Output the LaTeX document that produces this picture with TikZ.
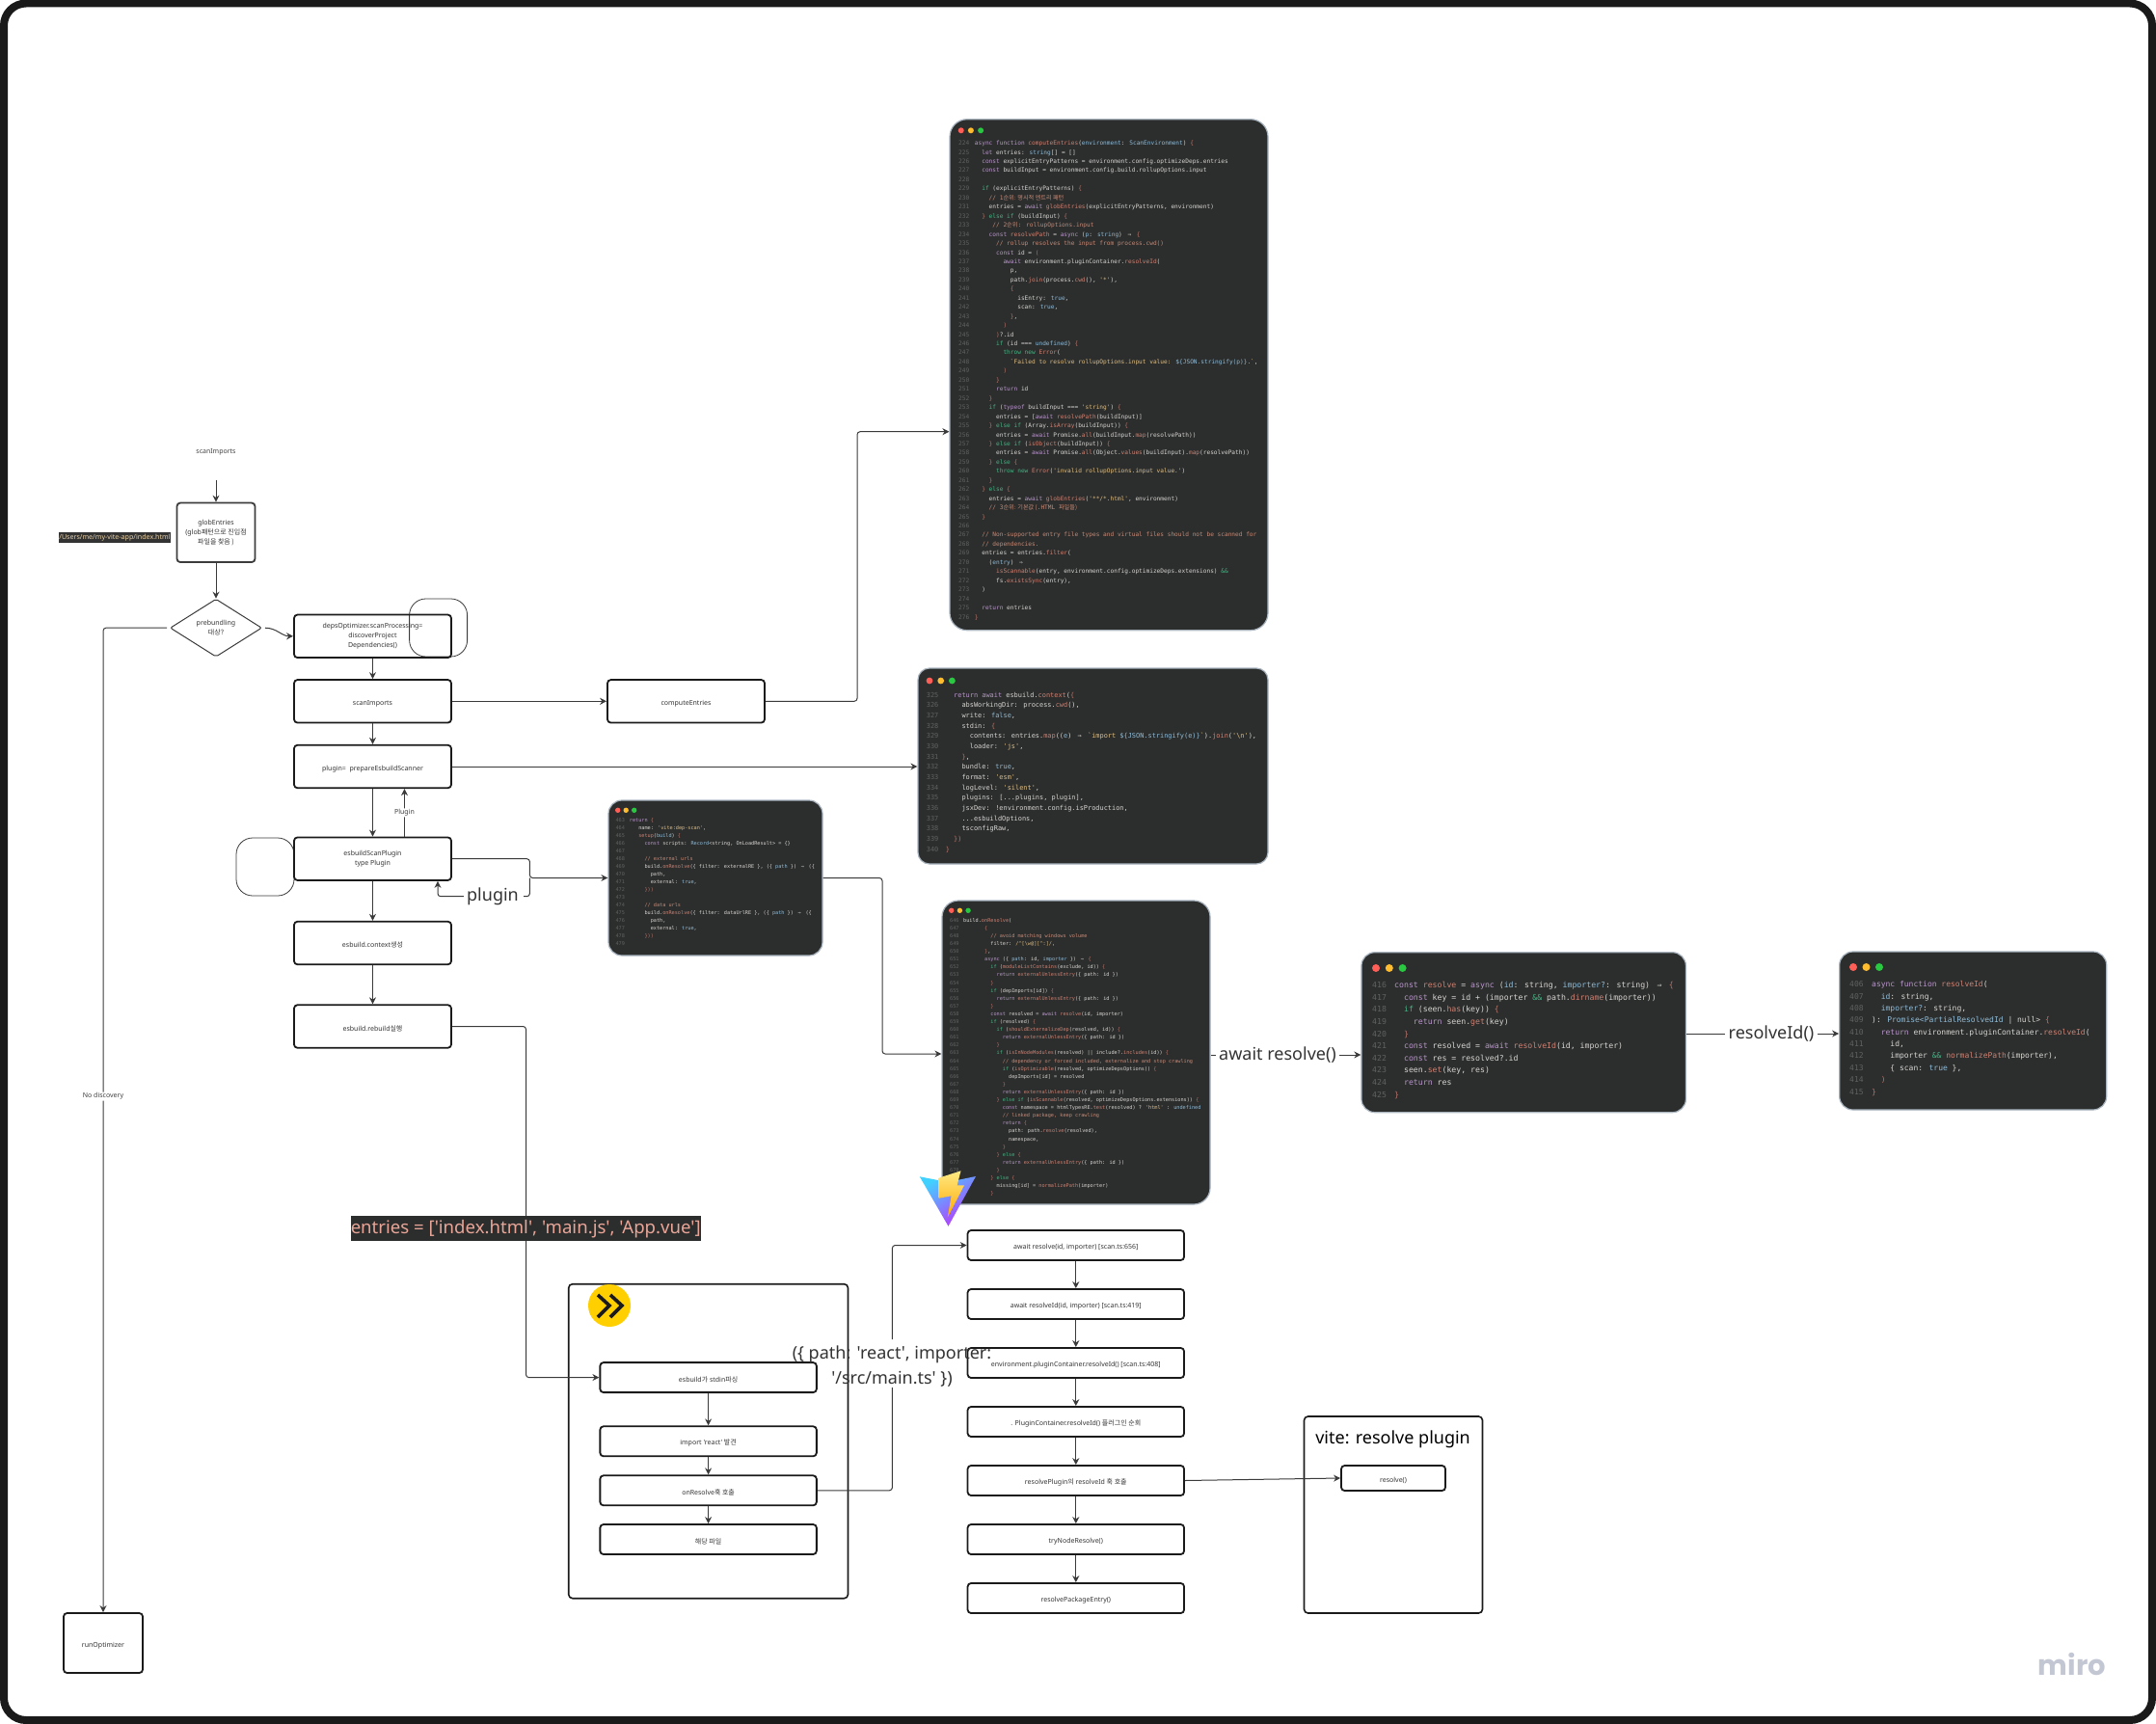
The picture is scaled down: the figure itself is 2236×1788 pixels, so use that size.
\documentclass[tikz,border=0pt]{standalone}
\usepackage{fontspec}
\usetikzlibrary{shapes.geometric, arrows.meta, positioning}
\setmainfont{Noto Sans}
\newfontfamily\kofont{Noto Sans CJK KR}
\newfontfamily\codefont{DejaVu Sans Mono}
\newfontfamily\logofont{Poppins}
\newfontfamily\quotefont{Noto Sans}
\newcommand{\ko}[1]{{\kofont #1}}

\definecolor{inkline}{HTML}{1A1A1A}
\definecolor{wireline}{HTML}{3A3A3A}
\definecolor{panelfill}{HTML}{2C2E2D}
\definecolor{paneledge}{HTML}{A9B4BF}
\definecolor{lnogray}{HTML}{5F6261}
\definecolor{codeplain}{HTML}{D6D6D2}
\definecolor{tokkey}{HTML}{B795C9}
\definecolor{tokfun}{HTML}{CE8173}
\definecolor{tokstr}{HTML}{E0BE84}
\definecolor{tokcom}{HTML}{C58A78}
\definecolor{tokpar}{HTML}{8FBBD8}
\definecolor{tokctl}{HTML}{45B384}
\definecolor{tokbrk}{HTML}{B9736A}
\definecolor{lightred}{HTML}{FF5F57}
\definecolor{lightyellow}{HTML}{FEBC2E}
\definecolor{lightgreen}{HTML}{28C840}
\definecolor{viteblue}{HTML}{41D1FF}
\definecolor{vitepurple}{HTML}{BD34FE}
\definecolor{boltyellow}{HTML}{FFEA83}
\definecolor{boltorange}{HTML}{FFA800}
\definecolor{esbuildyellow}{HTML}{FFCF00}
\definecolor{miroslate}{HTML}{C3C7D3}
\definecolor{entriestext}{HTML}{E8A598}

% tokens of the code windows
\newlength{\lnow}
\newcommand{\lno}[1]{\makebox[\lnow][l]{\textcolor{lnogray}{#1}}}
\newcommand{\ind}[1]{\hspace*{\dimexpr 0.602em*#1\relax}}
\newcommand{\fat}{\makebox[1.204em][c]{⇒}}
\newcommand{\tkw}[1]{\textcolor{tokkey}{#1}}
\newcommand{\tfn}[1]{\textcolor{tokfun}{#1}}
\newcommand{\tstr}[1]{\textcolor{tokstr}{#1}}
\newcommand{\tcm}[1]{\textcolor{tokcom}{#1}}
\newcommand{\tpa}[1]{\textcolor{tokpar}{#1}}
\newcommand{\tctl}[1]{\textcolor{tokctl}{#1}}
\newcommand{\tbr}[1]{\textcolor{tokbrk}{#1}}

% traffic lights: first x, spacing, y, radius
\newcommand{\lights}[4]{
  \fill[lightred] (#1,#3) circle (#4pt);
  \fill[lightyellow] (#1+#2,#3) circle (#4pt);
  \fill[lightgreen] (#1+2*#2,#3) circle (#4pt);
}

\tikzset{
  flowbox/.style={draw=inkline, line width=1.8pt, rounded corners=3.5pt, inner sep=0pt, align=center, text=black!80, font=\fontsize{7}{10}\selectfont, execute at begin node={\rule{0pt}{10pt}}},
  leftbox/.style={flowbox, minimum width=163pt, minimum height=44.5pt},
  stepbox/.style={flowbox, minimum width=224.5pt, minimum height=31pt},
  groupbox/.style={draw=inkline, line width=1.6pt, rounded corners=4pt, inner sep=0pt},
  softbox/.style={draw=wireline, line width=0.8pt, rounded corners=17pt, minimum width=60pt, minimum height=60pt, inner sep=0pt},
  wire/.style={draw=wireline, line width=1pt, rounded corners=3pt, -{Stealth[length=7pt,width=7pt]}},
  plainwire/.style={draw=wireline, line width=1pt, rounded corners=3pt},
  tinylabel/.style={text=black!75, inner sep=1pt, font=\fontsize{7}{10}\selectfont},
  biglabel/.style={text=black!80, inner sep=0pt, align=center, font=\quotefont\fontsize{18}{26}\selectfont},
  codewin/.style={fill=panelfill, draw=paneledge, line width=1.2pt, rounded corners=#1, inner sep=0pt},
  codetext/.style n args={3}{font=\codefont\fontsize{#1}{#2}\selectfont, execute at begin node=\setlength{\lnow}{#3}, text=codeplain, inner sep=0pt, anchor=base west, align=left},
}

\begin{document}
\begin{tikzpicture}[x=1pt, y=-1pt]
  \useasboundingbox (0,-1) rectangle (2236,1787);
  % Outer frame
  \draw[line width=8pt, inkline, rounded corners=23pt] (4,2.5) rectangle (2232,1783);

  % Outlines behind the left column
  \node[softbox] (depsNote) at (454.6,650) {};
  \node[softbox] (pluginNote) at (275,898) {};

  % Left column
  \node[tinylabel] (scanTitle) at (224,467.7) {scanImports};
  \coordinate (scanStart) at (224,497);
  \node[flowbox, draw=inkline!85, minimum width=81pt, minimum height=61.5pt] (globEntries) at (224,551.3) {globEntries\\(glob\ko{패턴으로 진입점}\\\ko{파일을 찾음 )}};
  \node[draw=wireline, line width=1pt, shape=diamond, aspect=1.58, minimum width=95pt, minimum height=60pt, inner sep=0pt, align=center, text=black!80, font=\fontsize{7}{10}\selectfont, rounded corners=2pt] (prebundle) at (224,650.2) {prebundling\\\ko{대상?}};
  \node[leftbox] (depsScan) at (386.5,658.8) {depsOptimizer.scanProcessing=\\discoverProject\\Dependencies()};
  \node[leftbox] (scanImports) at (386.5,726.3) {scanImports};
  \node[leftbox] (prepareScan) at (386.5,794) {plugin=\ \ prepareEsbuildScanner};
  \node[leftbox] (scanPlugin) at (386.5,889.7) {esbuildScanPlugin\\type Plugin};
  \node[leftbox] (esbContext) at (386.5,977) {esbuild.context\ko{생성}};
  \node[leftbox] (esbRebuild) at (386.5,1063.5) {esbuild.rebuild\ko{실행}};
  \node[leftbox, minimum width=82pt, minimum height=62pt] (runOptimizer) at (107,1703) {runOptimizer};
  \node[leftbox] (computeEntries) at (711.5,726.3) {computeEntries};
  \node[fill=black!80, text=tokstr!70!white, inner sep=0pt, minimum width=115pt, minimum height=10.5pt, font=\fontsize{7.1}{10}\selectfont] (htmlPath) at (119,556.5) {/Users/me/my-vite-app/index.html};
  \node[biglabel] (pluginLabel) at (511,928.7) {plugin};

  % Code windows
  \node[codewin=18pt, minimum width=330pt, minimum height=530pt] (computeWin) at (1150,387.7) {};
  \lights{996.7}{10.2}{134.3}{3}
  \node[codetext={6.15}{9.45}{16.7pt}] (computeCode) at (994,641) {%
\lno{224}\tkw{async function} \tfn{computeEntries}(\tpa{environment}: \tpa{ScanEnvironment}) \tbr{\{}\\
\lno{225}\ind{2}\tkw{let} entries: \tpa{string}[] = []\\
\lno{226}\ind{2}\tkw{const} explicitEntryPatterns = environment.config.optimizeDeps.entries\\
\lno{227}\ind{2}\tkw{const} buildInput = environment.config.build.rollupOptions.input\\
\lno{228}\\
\lno{229}\ind{2}\tctl{if} (explicitEntryPatterns) \tbr{\{}\\
\lno{230}\ind{4}\tcm{// 1\ko{순위: 명시적 엔트리 패턴}}\\
\lno{231}\ind{4}entries = \tkw{await} \tfn{globEntries}(explicitEntryPatterns, environment)\\
\lno{232}\ind{2}\tbr{\}} \tctl{else if} (buildInput) \tbr{\{}\\
\lno{233}\ind{5}\tcm{// 2\ko{순위}: rollupOptions.input}\\
\lno{234}\ind{4}\tkw{const} \tfn{resolvePath} = \tkw{async} (\tpa{p}: \tpa{string}) \fat{} \tbr{\{}\\
\lno{235}\ind{6}\tcm{// rollup resolves the input from process.cwd()}\\
\lno{236}\ind{6}\tkw{const} id = \tbr{(}\\
\lno{237}\ind{8}\tkw{await} environment.pluginContainer.\tfn{resolveId}(\\
\lno{238}\ind{10}p,\\
\lno{239}\ind{10}path.\tfn{join}(process.\tfn{cwd}(), \tstr{'*'}),\\
\lno{240}\ind{10}\tbr{\{}\\
\lno{241}\ind{12}isEntry: \tpa{true},\\
\lno{242}\ind{12}scan: \tpa{true},\\
\lno{243}\ind{10}\tbr{\}},\\
\lno{244}\ind{8}\tbr{)}\\
\lno{245}\ind{6}\tbr{)}?.id\\
\lno{246}\ind{6}\tctl{if} (id === \tpa{undefined}) \tbr{\{}\\
\lno{247}\ind{8}\tctl{throw new} \tfn{Error}(\\
\lno{248}\ind{10}\tstr{`Failed to resolve rollupOptions.input value: }\tpa{\$\{JSON.stringify(p)\}}\tstr{.`},\\
\lno{249}\ind{8}\tbr{)}\\
\lno{250}\ind{6}\tbr{\}}\\
\lno{251}\ind{6}\tkw{return} id\\
\lno{252}\ind{4}\tbr{\}}\\
\lno{253}\ind{4}\tctl{if} (\tkw{typeof} buildInput === \tstr{'string'}) \tbr{\{}\\
\lno{254}\ind{6}entries = [\tkw{await} \tfn{resolvePath}(buildInput)]\\
\lno{255}\ind{4}\tbr{\}} \tctl{else if} (Array.\tfn{isArray}(buildInput)) \tbr{\{}\\
\lno{256}\ind{6}entries = \tkw{await} Promise.\tfn{all}(buildInput.\tfn{map}(resolvePath))\\
\lno{257}\ind{4}\tbr{\}} \tctl{else if} (\tfn{isObject}(buildInput)) \tbr{\{}\\
\lno{258}\ind{6}entries = \tkw{await} Promise.\tfn{all}(Object.\tfn{values}(buildInput).\tfn{map}(resolvePath))\\
\lno{259}\ind{4}\tbr{\}} \tctl{else} \tbr{\{}\\
\lno{260}\ind{6}\tctl{throw new} \tfn{Error}(\tstr{'invalid rollupOptions.input value.'})\\
\lno{261}\ind{4}\tbr{\}}\\
\lno{262}\ind{2}\tbr{\}} \tctl{else} \tbr{\{}\\
\lno{263}\ind{4}entries = \tkw{await} \tfn{globEntries}(\tstr{'**/*.html'}, environment)\\
\lno{264}\ind{4}\tcm{// 3\ko{순위: 기본값 (}.HTML \ko{파일들)}}\\
\lno{265}\ind{2}\tbr{\}}\\
\lno{266}\\
\lno{267}\ind{2}\tcm{// Non-supported entry file types and virtual files should not be scanned for}\\
\lno{268}\ind{2}\tcm{// dependencies.}\\
\lno{269}\ind{2}entries = entries.\tfn{filter}(\\
\lno{270}\ind{4}(\tpa{entry}) \fat\\
\lno{271}\ind{6}\tfn{isScannable}(entry, environment.config.optimizeDeps.extensions) \tctl{\&\&}\\
\lno{272}\ind{6}fs.\tfn{existsSync}(entry),\\
\lno{273}\ind{2})\\
\lno{274}\\
\lno{275}\ind{2}\tkw{return} entries\\
\lno{276}\tbr{\}}};

  \node[codewin=12pt, minimum width=363pt, minimum height=203pt] (contextWin) at (1133.5,793.5) {};
  \lights{964}{11.7}{705}{3.4}
  \node[codetext={6.92}{10.65}{20pt}] (contextCode) at (960.7,882) {%
\lno{325}\ind{2}\tkw{return await} esbuild.\tfn{context}(\tbr{\{}\\
\lno{326}\ind{4}absWorkingDir: process.\tfn{cwd}(),\\
\lno{327}\ind{4}write: \tpa{false},\\
\lno{328}\ind{4}stdin: \tbr{\{}\\
\lno{329}\ind{6}contents: entries.\tfn{map}((\tpa{e}) \fat{} \tstr{`import }\tpa{\$\{JSON.stringify(e)\}}\tstr{`}).\tfn{join}(\tstr{'\textbackslash n'}),\\
\lno{330}\ind{6}loader: \tstr{'js'},\\
\lno{331}\ind{4}\tbr{\}},\\
\lno{332}\ind{4}bundle: \tpa{true},\\
\lno{333}\ind{4}format: \tstr{'esm'},\\
\lno{334}\ind{4}logLevel: \tstr{'silent'},\\
\lno{335}\ind{4}plugins: [...plugins, plugin],\\
\lno{336}\ind{4}jsxDev: !environment.config.isProduction,\\
\lno{337}\ind{4}...esbuildOptions,\\
\lno{338}\ind{4}tsconfigRaw,\\
\lno{339}\ind{2}\tbr{\})}\\
\lno{340}\tbr{\}}};

  \node[codewin=14pt, minimum width=222pt, minimum height=161pt] (pluginWin) at (742,909.5) {};
  \lights{640.7}{8.5}{839.3}{2.7}
  \node[codetext={5.2}{7.94}{14.4pt}] (pluginCode) at (638.3,979) {%
\lno{463}\tkw{return} \tbr{\{}\\
\lno{464}\ind{3}name: \tstr{'vite:dep-scan'},\\
\lno{465}\ind{3}\tfn{setup}(\tpa{build}) \tbr{\{}\\
\lno{466}\ind{5}\tkw{const} scripts: \tpa{Record}<string, OnLoadResult> = \{\}\\
\lno{467}\\
\lno{468}\ind{5}\tcm{// external urls}\\
\lno{469}\ind{5}build.\tfn{onResolve}(\{ filter: externalRE \}, (\{ \tpa{path} \}) \fat{} (\{\\
\lno{470}\ind{7}path,\\
\lno{471}\ind{7}external: \tpa{true},\\
\lno{472}\ind{5}\tbr{\}))}\\
\lno{473}\\
\lno{474}\ind{5}\tcm{// data urls}\\
\lno{475}\ind{5}build.\tfn{onResolve}(\{ filter: dataUrlRE \}, (\{ \tpa{path} \}) \fat{} (\{\\
\lno{476}\ind{7}path,\\
\lno{477}\ind{7}external: \tpa{true},\\
\lno{478}\ind{5}\tbr{\}))}\\
\lno{479}};

  \node[codewin=17pt, minimum width=278pt, minimum height=315pt] (resolveWin) at (1116,1090.5) {};
  \lights{986.7}{8.7}{943.3}{2.7}
  \node[codetext={5.2}{8.1}{14pt}] (resolveCode) at (985,1238.7) {%
\lno{646}build.\tfn{onResolve}(\\
\lno{647}\ind{7}\tbr{\{}\\
\lno{648}\ind{9}\tcm{// avoid matching windows volume}\\
\lno{649}\ind{9}filter: \tstr{/\textasciicircum[\textbackslash w@][\textasciicircum:]/},\\
\lno{650}\ind{7}\tbr{\}},\\
\lno{651}\ind{7}\tkw{async} (\{ \tpa{path}: id, \tpa{importer} \}) \fat{} \tbr{\{}\\
\lno{652}\ind{9}\tctl{if} (\tfn{moduleListContains}(exclude, id)) \tbr{\{}\\
\lno{653}\ind{11}\tkw{return} \tfn{externalUnlessEntry}(\{ path: id \})\\
\lno{654}\ind{9}\tbr{\}}\\
\lno{655}\ind{9}\tctl{if} (depImports[id]) \tbr{\{}\\
\lno{656}\ind{11}\tkw{return} \tfn{externalUnlessEntry}(\{ path: id \})\\
\lno{657}\ind{9}\tbr{\}}\\
\lno{658}\ind{9}\tkw{const} resolved = \tkw{await} \tfn{resolve}(id, importer)\\
\lno{659}\ind{9}\tctl{if} (resolved) \tbr{\{}\\
\lno{660}\ind{11}\tctl{if} (\tfn{shouldExternalizeDep}(resolved, id)) \tbr{\{}\\
\lno{661}\ind{13}\tkw{return} \tfn{externalUnlessEntry}(\{ path: id \})\\
\lno{662}\ind{11}\tbr{\}}\\
\lno{663}\ind{11}\tctl{if} (\tfn{isInNodeModules}(resolved) || include?.\tfn{includes}(id)) \tbr{\{}\\
\lno{664}\ind{13}\tcm{// dependency or forced included, externalize and stop crawling}\\
\lno{665}\ind{13}\tctl{if} (\tfn{isOptimizable}(resolved, optimizeDepsOptions)) \tbr{\{}\\
\lno{666}\ind{15}depImports[id] = resolved\\
\lno{667}\ind{13}\tbr{\}}\\
\lno{668}\ind{13}\tkw{return} \tfn{externalUnlessEntry}(\{ path: id \})\\
\lno{669}\ind{11}\tbr{\}} \tctl{else if} (\tfn{isScannable}(resolved, optimizeDepsOptions.extensions)) \tbr{\{}\\
\lno{670}\ind{13}\tkw{const} namespace = htmlTypesRE.\tfn{test}(resolved) ? \tstr{'html'} : \tpa{undefined}\\
\lno{671}\ind{13}\tcm{// linked package, keep crawling}\\
\lno{672}\ind{13}\tkw{return} \tbr{\{}\\
\lno{673}\ind{15}path: path.\tfn{resolve}(resolved),\\
\lno{674}\ind{15}namespace,\\
\lno{675}\ind{13}\tbr{\}}\\
\lno{676}\ind{11}\tbr{\}} \tctl{else} \tbr{\{}\\
\lno{677}\ind{13}\tkw{return} \tfn{externalUnlessEntry}(\{ path: id \})\\
\lno{678}\ind{11}\tbr{\}}\\
\lno{679}\ind{9}\tbr{\}} \tctl{else} \tbr{\{}\\
\lno{680}\ind{11}missing[id] = \tfn{normalizePath}(importer)\\
\lno{681}\ind{9}\tbr{\}}};

  \node[codewin=14pt, minimum width=336.5pt, minimum height=166pt] (seenWin) at (1580.2,1069.7) {};
  \lights{1427}{13.8}{1003}{4}
  \node[codetext={8.2}{12.6}{23pt}] (seenCode) at (1423,1137) {%
\lno{416}\tkw{const} \tfn{resolve} = \tkw{async} (\tpa{id}: string, \tpa{importer?}: string) \fat{} \tbr{\{}\\
\lno{417}\ind{2}\tkw{const} key = id + (importer \tctl{\&\&} path.\tfn{dirname}(importer))\\
\lno{418}\ind{2}\tctl{if} (seen.\tfn{has}(key)) \tbr{\{}\\
\lno{419}\ind{4}\tkw{return} seen.\tfn{get}(key)\\
\lno{420}\ind{2}\tbr{\}}\\
\lno{421}\ind{2}\tkw{const} resolved = \tkw{await} \tfn{resolveId}(id, importer)\\
\lno{422}\ind{2}\tkw{const} res = resolved?.id\\
\lno{423}\ind{2}seen.\tfn{set}(key, res)\\
\lno{424}\ind{2}\tkw{return} res\\
\lno{425}\tbr{\}}};

  \node[codewin=14pt, minimum width=277pt, minimum height=164pt] (idWin) at (2046.2,1068) {};
  \lights{1922}{13.5}{1002}{4}
  \node[codetext={8}{12.37}{23pt}] (idCode) at (1918,1134) {%
\lno{406}\tkw{async function} \tfn{resolveId}(\\
\lno{407}\ind{2}\tpa{id}: string,\\
\lno{408}\ind{2}\tpa{importer?}: string,\\
\lno{409}): \tpa{Promise<PartialResolvedId} | null> \tbr{\{}\\
\lno{410}\ind{2}\tkw{return} environment.pluginContainer.\tfn{resolveId}(\\
\lno{411}\ind{4}id,\\
\lno{412}\ind{4}importer \tctl{\&\&} \tfn{normalizePath}(importer),\\
\lno{413}\ind{4}\{ scan: \tpa{true} \},\\
\lno{414}\ind{2}\tbr{)}\\
\lno{415}\tbr{\}}};

  % esbuild group
  \node[groupbox, minimum width=289.7pt, minimum height=326pt] (esbuildGroup) at (734.6,1493.7) {};
  \fill[esbuildyellow] (632,1353) circle (22pt);
  \draw[inkline, line width=3.6pt] (620,1342) -- (632,1353) -- (620,1365);
  \draw[inkline, line width=3.6pt] (633,1342) -- (645,1353) -- (633,1365);
  \node[stepbox] (stdinParse) at (734.6,1427.6) {esbuild\ko{가} stdin\ko{파싱}};
  \node[stepbox] (importFound) at (734.6,1493.8) {\quotefont import 'react' \ko{발견}};
  \node[stepbox] (onResolve) at (734.6,1544.8) {onResolve\ko{훅 호출}};
  \node[stepbox] (targetFile) at (734.6,1595.5) {\ko{해당 파일}};

  % vite chain
  \node[stepbox] (awaitResolve) at (1115.8,1290.5) {await resolve(id, importer) [scan.ts:656]};
  \node[stepbox] (awaitResolveId) at (1115.8,1351.5) {await resolveId(id, importer) [scan.ts:419]};
  \node[stepbox] (containerResolve) at (1115.8,1412.5) {environment.pluginContainer.resolveId() [scan.ts:408]};
  \node[stepbox] (pluginLoop) at (1115.8,1473.5) {. PluginContainer.resolveId() \ko{플러그인 순회}};
  \node[stepbox] (pluginHook) at (1115.8,1534.5) {resolvePlugin\ko{의} resolveId \ko{훅 호출}};
  \node[stepbox] (nodeResolve) at (1115.8,1595.5) {tryNodeResolve()};
  \node[stepbox] (packageEntry) at (1115.8,1656.5) {resolvePackageEntry()};

  % vite: resolve plugin group
  \node[groupbox, minimum width=185pt, minimum height=204pt] (resolveGroup) at (1445,1570) {};
  \node[biglabel, text=black] (resolveTitle) at (1444.6,1491.5) {vite: resolve plugin};
  \node[flowbox, minimum width=108pt, minimum height=26pt] (resolveFn) at (1445,1532) {resolve()};

  % Vite logo
  \shade[top color=viteblue, bottom color=vitepurple, shading angle=35] (953.8,1219.3) -- (983,1225) -- (1012,1219) -- (983.5,1270.7) -- cycle;
  \shade[top color=boltyellow, bottom color=boltorange] (973.6,1220.7) -- (996.5,1213.3) -- (992.6,1228.3) -- (1000,1228.3) -- (982.7,1261.7) -- (986.6,1239.3) -- (973.6,1241.7) -- cycle;

  % Free labels
  \coordinate (bendCompute) at (889,500);
  \coordinate (bendPlugin) at (915,1000);
  \coordinate (joinBrace) at (549.4,909.5);
  \coordinate (bendRebuild) at (545.5,1200);
  \coordinate (gapLow) at (925.4,1438);
  \coordinate (gapHigh) at (925.4,1388);
  \node[biglabel] (awaitLabel) at (1325,1093) {await resolve()};
  \node[biglabel] (resolveIdLabel) at (1837,1071) {resolveId()};
  \node[biglabel] (argsLabel) at (925,1415.7) {(\{ path: 'react', importer:\\'/src/main.ts' \})};

  % Connectors
  \draw[wire] (scanStart) -- (globEntries);
  \draw[wire] (globEntries) -- (prebundle);
  \draw[wire] ([xshift=3pt]prebundle.east) to[out=0, in=180] (depsScan.west);
  \draw[wire] ([xshift=-3pt]prebundle.west) -| node[pos=0.738, fill=white, tinylabel] (noDiscovery) {No discovery} (runOptimizer.north);
  \draw[wire] (depsScan) -- (scanImports);
  \draw[wire] (scanImports) -- (prepareScan);
  \draw[wire] (prepareScan) -- (scanPlugin);
  \draw[wire] ([xshift=33pt]scanPlugin.north) -- node[fill=white, tinylabel] (pluginReturn) {Plugin} ([xshift=33pt]prepareScan.south);
  \draw[wire] (scanPlugin) -- (esbContext);
  \draw[wire] (esbContext) -- (esbRebuild);
  \draw[wire] (scanImports) -- (computeEntries);
  \draw[wire] (computeEntries.east) -| (bendCompute) |- ([yshift=-59pt]computeWin.west);
  \draw[wire] (prepareScan.east) -- (prepareScan.east -| contextWin.west);
  \draw[wire] (scanPlugin.east) -| (joinBrace) -- (pluginWin.west);
  \draw[plainwire] ([xshift=5pt]pluginLabel.east) -| (joinBrace);
  \draw[wire] ([xshift=-3pt]pluginLabel.west) -| ([xshift=67.5pt]scanPlugin.south);
  \draw[wire] (pluginWin.east) -| (bendPlugin) |- ([yshift=-1.5pt]resolveWin.west);
  \draw[plainwire] (resolveWin.east |- awaitLabel) -- ([xshift=-3pt]awaitLabel.west);
  \draw[wire] ([xshift=3pt]awaitLabel.east) -- (awaitLabel -| seenWin.west);
  \draw[plainwire] (seenWin.east |- resolveIdLabel) -- ([xshift=-3pt]resolveIdLabel.west);
  \draw[wire] ([xshift=3pt]resolveIdLabel.east) -- (resolveIdLabel -| idWin.west);
  \draw[wire] (esbRebuild.east) -| (bendRebuild) |- (stdinParse.west);
  \draw[wire] (stdinParse) -- (importFound);
  \draw[wire] (importFound) -- (onResolve);
  \draw[wire] (onResolve) -- (targetFile);
  \draw[plainwire] (onResolve.east) -| (gapLow);
  \draw[wire] (gapHigh) |- (awaitResolve.west);
  \draw[wire] (awaitResolve) -- (awaitResolveId);
  \draw[wire] (awaitResolveId) -- (containerResolve);
  \draw[wire] (containerResolve) -- (pluginLoop);
  \draw[wire] (pluginLoop) -- (pluginHook);
  \draw[wire] (pluginHook) -- (nodeResolve);
  \draw[wire] (nodeResolve) -- (packageEntry);
  \draw[wire] (pluginHook.east) -- (resolveFn.west);

  % Labels on top of the wires
  \node[fill=panelfill, text=entriestext, inner sep=0pt, minimum width=356pt, minimum height=26pt, font=\quotefont\fontsize{18.6}{24}\selectfont] (entriesLabel) at (545.2,1273.3) {entries = ['index.html', 'main.js', 'App.vue']};
  \node[text=miroslate, inner sep=0pt, font=\logofont\bfseries\fontsize{29}{34}\selectfont] (miroMark) at (2149,1725) {miro};
\end{tikzpicture}
\end{document}
